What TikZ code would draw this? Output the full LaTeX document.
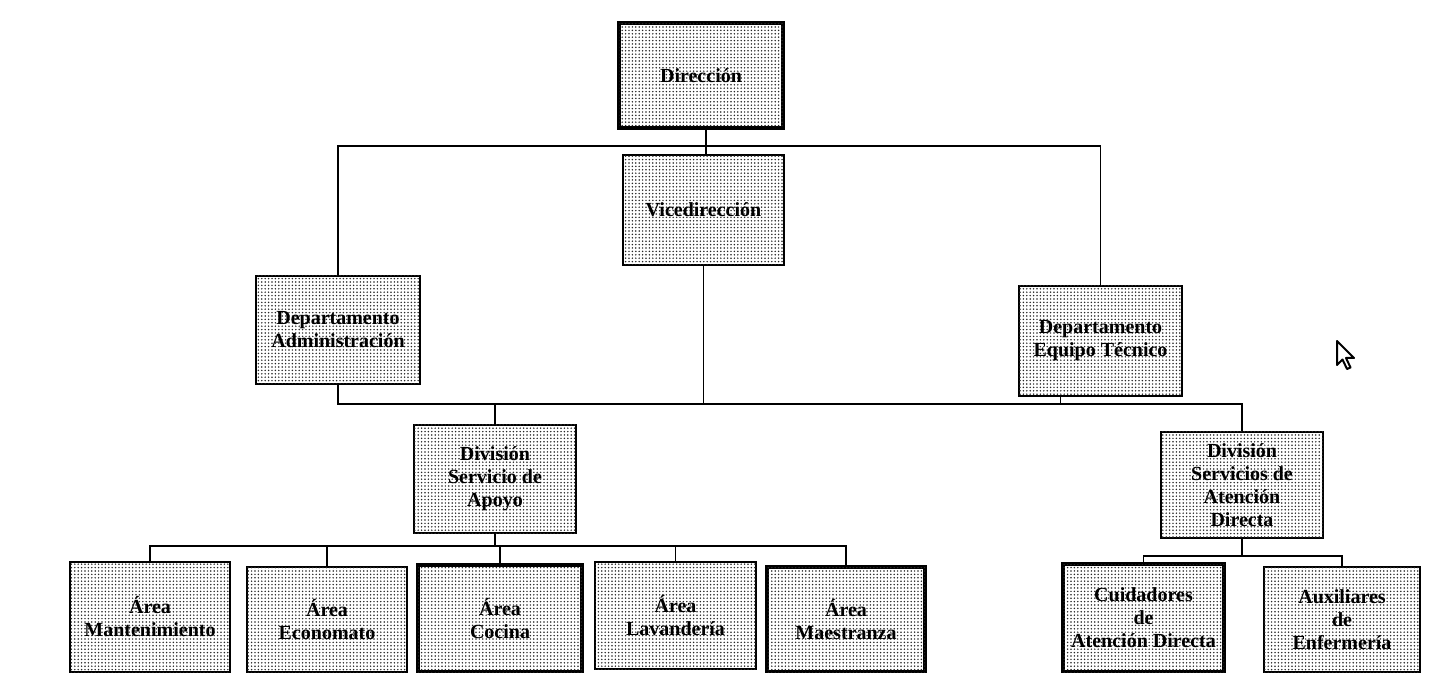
\documentclass[tikz,border=0pt]{standalone}
\usepackage{fontspec}
\setmainfont{Liberation Serif}
\usetikzlibrary{patterns.meta}
\tikzset{
  box/.style={draw=black, line width=1.2pt, fill=white,
    postaction={pattern={Dots[distance=1.7pt,radius=0.42pt]}, pattern color=black!85},
    align=center, inner sep=2pt,
    font=\fontsize{10}{11.5}\selectfont\bfseries},
  conn/.style={draw=black, line width=0.8pt},
}
\begin{document}
\begin{tikzpicture}[x=0.5pt,y=-0.5pt]
\useasboundingbox (0,0) rectangle (1429,673);
\fill[white] (0,0) rectangle (1429,673);
% level 0/1
\node[box, line width=2pt, minimum width=82pt, minimum height=52.5pt] (dir) at (701,75.5) {Dirección};
\node[box, minimum width=80.5pt, minimum height=55pt] (vice) at (703.5,210) {Vicedirección};
\node[box, minimum width=82pt, minimum height=54pt] (adm) at (338,330) {Departamento\\Administración};
\node[box, minimum width=81.5pt, minimum height=55pt] (eq) at (1100.5,341) {Departamento\\Equipo Técnico};
% level 2
\node[box, minimum width=81pt, minimum height=54pt] (apoyo) at (495,479) {División\\Servicio de\\Apoyo};
\node[box, minimum width=81pt, minimum height=53pt] (aten) at (1242,485) {División\\Servicios de\\Atención\\Directa};
% level 3
\node[box, minimum width=80pt, minimum height=55pt] (mant) at (150,617) {Área\\Mantenimiento};
\node[box, minimum width=80pt, minimum height=52.5pt] (econ) at (327,619.5) {Área\\Economato};
\node[box, line width=1.6pt, minimum width=82pt, minimum height=53.5pt] (coc) at (500,618.5) {Área\\Cocina};
\node[box, minimum width=80.5pt, minimum height=53.5pt] (lav) at (675.5,615.5) {Área\\Lavandería};
\node[box, line width=1.6pt, minimum width=79pt, minimum height=52.5pt] (maes) at (846,619.5) {Área\\Maestranza};
\node[box, line width=1.6pt, minimum width=80.5pt, minimum height=54pt] (cuid) at (1143.5,618) {Cuidadores\\de\\Atención Directa};
\node[box, minimum width=78pt, minimum height=52.5pt] (aux) at (1342,619.5) {Auxiliares\\de\\Enfermería};
% junctions
\coordinate (j1) at (706,146);
\coordinate (j2) at (700,404);
\coordinate (j3) at (499,546);
\coordinate (j4) at (1241,556);
% connectors
\draw[conn] (dir.south -| j1) -- (vice.north -| j1);
\draw[conn] (adm.north) |- (j1) -| (eq.north);
\draw[conn] (adm.south) |- (j2) -| (aten.north);
\draw[conn] (vice.south) -- (vice.south |- j2);
\draw[conn] ([xshift=-20pt]eq.south) -- ([xshift=-20pt]eq.south |- j2);
\draw[conn] (apoyo.north) -- (apoyo.north |- j2);
\draw[conn] (mant.north) |- (j3) -| (maes.north);
\draw[conn] (apoyo.south) -- (apoyo.south |- j3);
\draw[conn] (econ.north) -- (econ.north |- j3);
\draw[conn] (coc.north) -- (coc.north |- j3);
\draw[conn] (lav.north) -- (lav.north |- j3);
\draw[conn] (cuid.north) |- (j4) -| (aux.north);
\draw[conn] (aten.south) -- (aten.south |- j4);
% mouse pointer
\draw[line width=1pt, fill=white, line join=round]
  (1337,341) -- ++(0,24) -- ++(5.5,-5.5) -- ++(4.5,9.5) -- ++(3.5,-1.5) -- ++(-4.5,-9.5) -- ++(8,0) -- cycle;
\end{tikzpicture}
\end{document}
